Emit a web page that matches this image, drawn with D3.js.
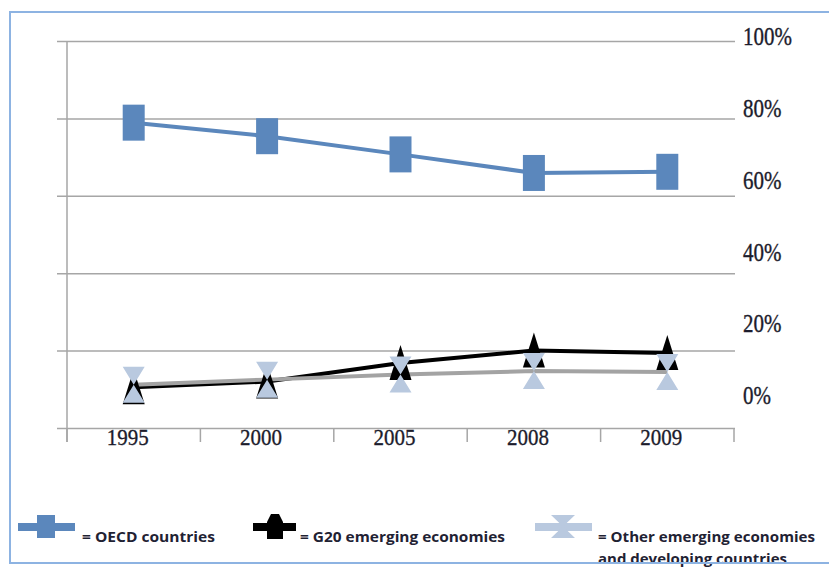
<!DOCTYPE html>
<html>
<head>
<meta charset="utf-8">
<script src="https://cdn.jsdelivr.net/npm/d3@7"></script>
<style>
  body { margin: 0; background: #fff; }
  svg { display: block; }
</style>
</head>
<body>
<div id="chart"></div>
<script>
// data
const years = ["1995", "2000", "2005", "2008", "2009"];
const oecd = [0.789, 0.754, 0.707, 0.659, 0.662];
const g20 = [0.105, 0.120, 0.168, 0.200, 0.194];
const others = [0.112, 0.125, 0.138, 0.147, 0.145];
const yTicks = [0, 0.2, 0.4, 0.6, 0.8, 1];
const legendLabels = ["= OECD countries", "= G20 emerging economies", "= Other emerging economies", "and developing countries"];

const width = 829, height = 567;

let svg = d3.select("#chart")
    .append("svg")
    .attr("width", width)
    .attr("height", height);

let x = d3.scaleBand()
    .domain(years)
    .range([67, 734]);

let y = d3.scaleLinear()
    .domain([0, 1])
    .range([428, 41]);

// the right-hand labels sit on their own spacing in the original
let yLabel = d3.scaleLinear()
    .domain([0, 1])
    .range([396, 37]);

// gridlines
let grid = svg.append("g")
    .attr("transform", "translate(735,0)")
    .call(d3.axisLeft(y).tickValues(yTicks).tickSize(678).tickFormat(""));
grid.select(".domain").remove();
grid.selectAll("line").attr("stroke", "#a6a6a6").attr("stroke-width", 1.5);

// left vertical axis
svg.append("line")
    .attr("x1", 67).attr("x2", 67)
    .attr("y1", y(1)).attr("y2", 442)
    .attr("stroke", "#a6a6a6")
    .attr("stroke-width", 1.5);

// category separators under the x axis
svg.append("g").selectAll("line")
    .data(years.concat(["end"]))
    .enter()
    .append("line")
    .attr("x1", (d, i) => i < years.length ? x(d) : x.range()[1])
    .attr("x2", (d, i) => i < years.length ? x(d) : x.range()[1])
    .attr("y1", y(0))
    .attr("y2", 442)
    .attr("stroke", "#a6a6a6")
    .attr("stroke-width", 1.5);

// year labels
let xAxis = svg.append("g")
    .attr("transform", `translate(0,${y(0)})`)
    .call(d3.axisBottom(x).tickSize(0).tickPadding(0));
xAxis.select(".domain").remove();
xAxis.selectAll("text")
    .attr("x", -6)
    .attr("transform", "scale(1,1.12)")
    .style("font-family", "'Liberation Serif', 'Times New Roman', serif")
    .style("font-size", "21px")
    .attr("fill", "#1c1c2c")
    .attr("stroke", "#1c1c2c")
    .attr("stroke-width", 0.3);

// percentage labels on the right
let yAxis = svg.append("g")
    .attr("transform", "translate(743,0)")
    .call(d3.axisRight(yLabel).tickValues(yTicks).tickSize(0).tickPadding(0).tickFormat(d3.format(".0%")));
yAxis.select(".domain").remove();
yAxis.selectAll("text")
    .attr("transform", "scale(1,1.15)")
    .style("font-family", "'Liberation Serif', 'Times New Roman', serif")
    .style("font-size", "21px")
    .attr("fill", "#1c1c2c")
    .attr("stroke", "#1c1c2c")
    .attr("stroke-width", 0.3);

// marker shapes
const rectPath = "M-11,-18H11V18H-11Z";
const triPath = "M0,-18L11,17L-11,17Z";
const hourPath = "M-11,-18L11,-18L-11,18L11,18Z";

const series = [
    { values: oecd, line: "#5b87bc", fill: "#5b87bc", shape: rectPath },
    { values: g20, line: "#000000", fill: "#000000", shape: triPath },
    { values: others, line: "#a3a3a3", fill: "#b9c9df", shape: hourPath }
];

let line = d3.line()
    .x((d, i) => x(years[i]) + x.bandwidth() / 2)
    .y(d => y(d));

series.forEach(function(s) {
    svg.append("path")
        .datum(s.values)
        .attr("d", line)
        .attr("fill", "none")
        .attr("stroke", s.line)
        .attr("stroke-width", 4)
        .attr("stroke-linejoin", "round");
});

series.forEach(function(s) {
    svg.append("g").selectAll("path")
        .data(s.values)
        .enter()
        .append("path")
        .attr("transform", (d, i) => `translate(${x(years[i]) + x.bandwidth() / 2},${y(d)})`)
        .attr("d", s.shape)
        .attr("fill", s.fill);
});

// legend
let legend = svg.append("g");

const legendItems = [
    { x1: 18, x2: 75, cx: 46, cy: 527, color: "#5b87bc", shape: "M-9,-12H9V11H-9Z" },
    { x1: 253, x2: 296, cx: 275, cy: 527, color: "#000000", shape: "M-4,-13L4,-13L8,-5L8,12L-8,12L-8,-5Z" },
    { x1: 535, x2: 592, cx: 563, cy: 527, color: "#b9c9df", shape: "M-12,-12L12,-12L-12,11L12,11Z" }
];

legendItems.forEach(function(d) {
    legend.append("line")
        .attr("x1", d.x1).attr("x2", d.x2)
        .attr("y1", d.cy).attr("y2", d.cy)
        .attr("stroke", d.color)
        .attr("stroke-width", 8);
    legend.append("path")
        .attr("transform", `translate(${d.cx},${d.cy})`)
        .attr("d", d.shape)
        .attr("fill", d.color);
});

const legendText = [
    { x: 82, y: 542, w: 133 },
    { x: 300, y: 542, w: 205 },
    { x: 598, y: 542, w: 217 },
    { x: 598, y: 564, w: 189 }
];

legend.selectAll("text")
    .data(legendLabels)
    .enter()
    .append("text")
    .attr("x", (d, i) => legendText[i].x)
    .attr("y", (d, i) => legendText[i].y)
    .attr("textLength", (d, i) => legendText[i].w)
    .attr("lengthAdjust", "spacingAndGlyphs")
    .style("font-family", "'Open Sans', sans-serif")
    .style("font-weight", 700)
    .style("font-size", "15px")
    .attr("fill", "#1f2233")
    .text(d => d);

// outer frame
svg.append("rect")
    .attr("x", 10)
    .attr("y", 12)
    .attr("width", 830)
    .attr("height", 551)
    .attr("fill", "none")
    .attr("stroke", "#8db3e2")
    .attr("stroke-width", 2);
</script>
</body>
</html>
